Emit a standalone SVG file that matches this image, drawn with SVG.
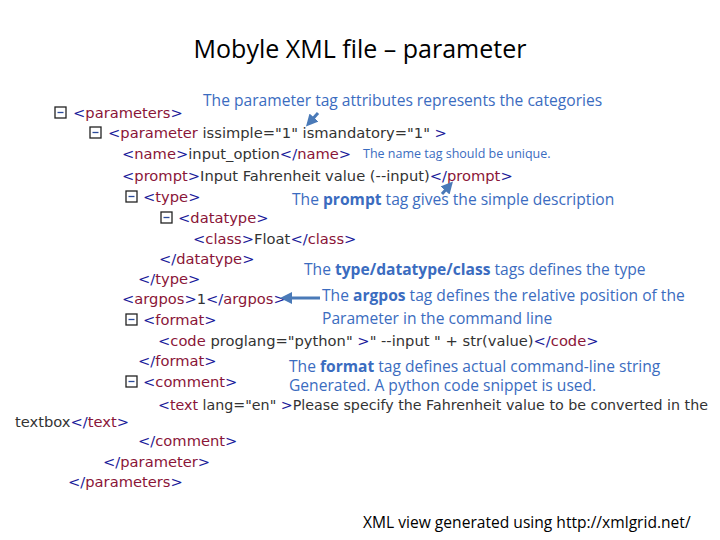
<svg xmlns="http://www.w3.org/2000/svg" width="720" height="540" viewBox="0 0 720 540">
<defs>
<style>
.x{font-family:"DejaVu Sans",Verdana,sans-serif;font-size:14.7px;fill:#333}
.b{fill:#1a1a9a}.t{fill:#8a1538}
.a{font-family:"Open Sans","Liberation Sans",sans-serif;font-size:15.6px;fill:#3b6cc0}
.k{font-weight:bold}
.box{fill:#fff;stroke:#222;stroke-width:1.3}
.ln{stroke:#2a4a9a;stroke-width:1.3}
.ar{stroke:#4a7ab8;stroke-width:3;fill:none}
</style>
<marker id="m" markerWidth="4" markerHeight="4" refX="2" refY="2" orient="auto"><path d="M0,0L4,2L0,4z" fill="#4a7ab8"/></marker>
<symbol id="bx" overflow="visible"><rect class="box" x="0" y="0" width="11" height="11"/><line class="ln" x1="2.5" y1="5.5" x2="8.5" y2="5.5"/></symbol>
</defs>
<rect width="720" height="540" fill="#fff"/>
<text x="360" y="58" text-anchor="middle" font-family="'Open Sans','Liberation Sans',sans-serif" font-size="25" fill="#000">Mobyle XML file – parameter</text>
<g id="xml" class="x">
<use href="#bx" x="55" y="107"/>
<text x="73" y="118"><tspan class="b">&lt;</tspan><tspan class="t">parameters</tspan><tspan class="b">&gt;</tspan></text>
<use href="#bx" x="90" y="127"/>
<text x="108" y="138"><tspan class="b">&lt;</tspan><tspan class="t">parameter</tspan> issimple="1" ismandatory="1" <tspan class="b">&gt;</tspan></text>
<text x="122" y="159"><tspan class="b">&lt;</tspan><tspan class="t">name</tspan><tspan class="b">&gt;</tspan>input_option<tspan class="b">&lt;/</tspan><tspan class="t">name</tspan><tspan class="b">&gt;</tspan></text>
<text x="122" y="181"><tspan class="b">&lt;</tspan><tspan class="t">prompt</tspan><tspan class="b">&gt;</tspan>Input Fahrenheit value (--input)<tspan class="b">&lt;/</tspan><tspan class="t">prompt</tspan><tspan class="b">&gt;</tspan></text>
<use href="#bx" x="126" y="191"/>
<text x="143" y="202"><tspan class="b">&lt;</tspan><tspan class="t">type</tspan><tspan class="b">&gt;</tspan></text>
<use href="#bx" x="161" y="212"/>
<text x="178" y="223"><tspan class="b">&lt;</tspan><tspan class="t">datatype</tspan><tspan class="b">&gt;</tspan></text>
<text x="193" y="244"><tspan class="b">&lt;</tspan><tspan class="t">class</tspan><tspan class="b">&gt;</tspan>Float<tspan class="b">&lt;/</tspan><tspan class="t">class</tspan><tspan class="b">&gt;</tspan></text>
<text x="159" y="264"><tspan class="b">&lt;/</tspan><tspan class="t">datatype</tspan><tspan class="b">&gt;</tspan></text>
<text x="138" y="284"><tspan class="b">&lt;/</tspan><tspan class="t">type</tspan><tspan class="b">&gt;</tspan></text>
<text x="122" y="304"><tspan class="b">&lt;</tspan><tspan class="t">argpos</tspan><tspan class="b">&gt;</tspan>1<tspan class="b">&lt;/</tspan><tspan class="t">argpos</tspan><tspan class="b">&gt;</tspan></text>
<use href="#bx" x="126" y="314"/>
<text x="143" y="325"><tspan class="b">&lt;</tspan><tspan class="t">format</tspan><tspan class="b">&gt;</tspan></text>
<text x="158" y="346"><tspan class="b">&lt;</tspan><tspan class="t">code</tspan> proglang="python" <tspan class="b">&gt;</tspan>" --input " + str(value)<tspan class="b">&lt;/</tspan><tspan class="t">code</tspan><tspan class="b">&gt;</tspan></text>
<text x="138" y="366"><tspan class="b">&lt;/</tspan><tspan class="t">format</tspan><tspan class="b">&gt;</tspan></text>
<use href="#bx" x="126" y="376"/>
<text x="143" y="387"><tspan class="b">&lt;</tspan><tspan class="t">comment</tspan><tspan class="b">&gt;</tspan></text>
<text x="158" y="410" textLength="550" lengthAdjust="spacingAndGlyphs"><tspan class="b">&lt;</tspan><tspan class="t">text</tspan> lang="en" <tspan class="b">&gt;</tspan>Please specify the Fahrenheit value to be converted in the</text>
<text x="15" y="427">textbox<tspan class="b">&lt;/</tspan><tspan class="t">text</tspan><tspan class="b">&gt;</tspan></text>
<text x="138" y="446"><tspan class="b">&lt;/</tspan><tspan class="t">comment</tspan><tspan class="b">&gt;</tspan></text>
<text x="103" y="467"><tspan class="b">&lt;/</tspan><tspan class="t">parameter</tspan><tspan class="b">&gt;</tspan></text>
<text x="68" y="487"><tspan class="b">&lt;/</tspan><tspan class="t">parameters</tspan><tspan class="b">&gt;</tspan></text>
</g>
<g id="notes" class="a">
<text x="203" y="106">The parameter tag attributes represents the categories</text>
<text x="363" y="158" font-size="12.5">The name tag should be unique.</text>
<text x="292" y="205">The <tspan class="k">prompt</tspan> tag gives the simple description</text>
<text x="304" y="275">The <tspan class="k">type/datatype/class</tspan> tags defines the type</text>
<text x="322" y="301">The <tspan class="k">argpos</tspan> tag defines the relative position of the</text>
<text x="322" y="324">Parameter in the command line</text>
<text x="289" y="372">The <tspan class="k">format</tspan> tag defines actual command-line string</text>
<text x="289" y="391">Generated. A python code snippet is used.</text>
<text x="363" y="528" fill="#000" font-size="15.6">XML view generated using http://xmlgrid.net/</text>
</g>
<g id="connectors">
<line class="ar" x1="318" y1="113" x2="310" y2="122" marker-end="url(#m)"/>
<line class="ar" x1="442" y1="194" x2="449" y2="186" marker-end="url(#m)"/>
<line class="ar" x1="320" y1="298" x2="286" y2="298" marker-end="url(#m)"/>
</g>
</svg>
